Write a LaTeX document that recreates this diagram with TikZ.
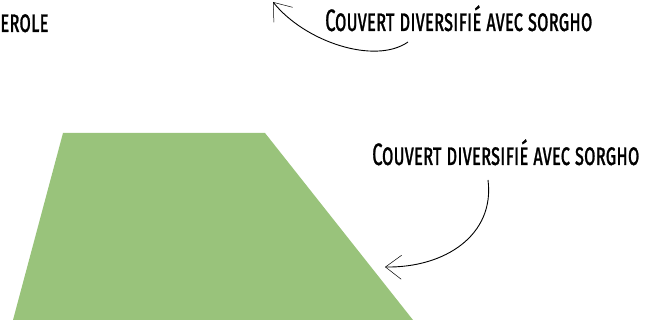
\documentclass[tikz,border=0pt]{standalone}
\usepackage{fontspec}
\newfontfamily\handfont[FakeStretch=0.6,FakeBold=0.8]{Fira Sans}
\usetikzlibrary{arrows.meta,positioning}
\definecolor{LeafG}{RGB}{153,195,123}

\begin{document}
\begin{tikzpicture}[x=1pt,y=-1pt,
    cover/.style={font=\handfont\scshape\fontsize{31}{31}\selectfont,
      inner sep=0pt, anchor=base west},
    sketch/.style={black, line width=0.9pt,
      -{Straight Barb[length=16pt,width=24pt,line width=0.5pt]}}]
  \useasboundingbox (0,0) rectangle (649,320);
  % the field
  \fill[LeafG] (63,133) -- (265,133) -- (413,320) -- (13,320) -- cycle;
  % labels
  \node[cover] (lab0) at (0,32) {erole};
  \node[cover] (lab1) at (325,31) {Couvert diversifié avec sorgho};
  \node[cover] (lab2) at (372,165) {Couvert diversifié avec sorgho};
  \coordinate (tip1) at (273,2);
  \coordinate (tip2) at (385,267);
  % hand-drawn arrows
  \draw[sketch] ([xshift=83pt,yshift=-11pt]lab1.base west)
    .. controls (375,65) and (305,42) .. (tip1);
  \draw[sketch] ([xshift=116pt,yshift=-15pt]lab2.base west)
    .. controls (495,235) and (445,268) .. (tip2);
\end{tikzpicture}
\end{document}
